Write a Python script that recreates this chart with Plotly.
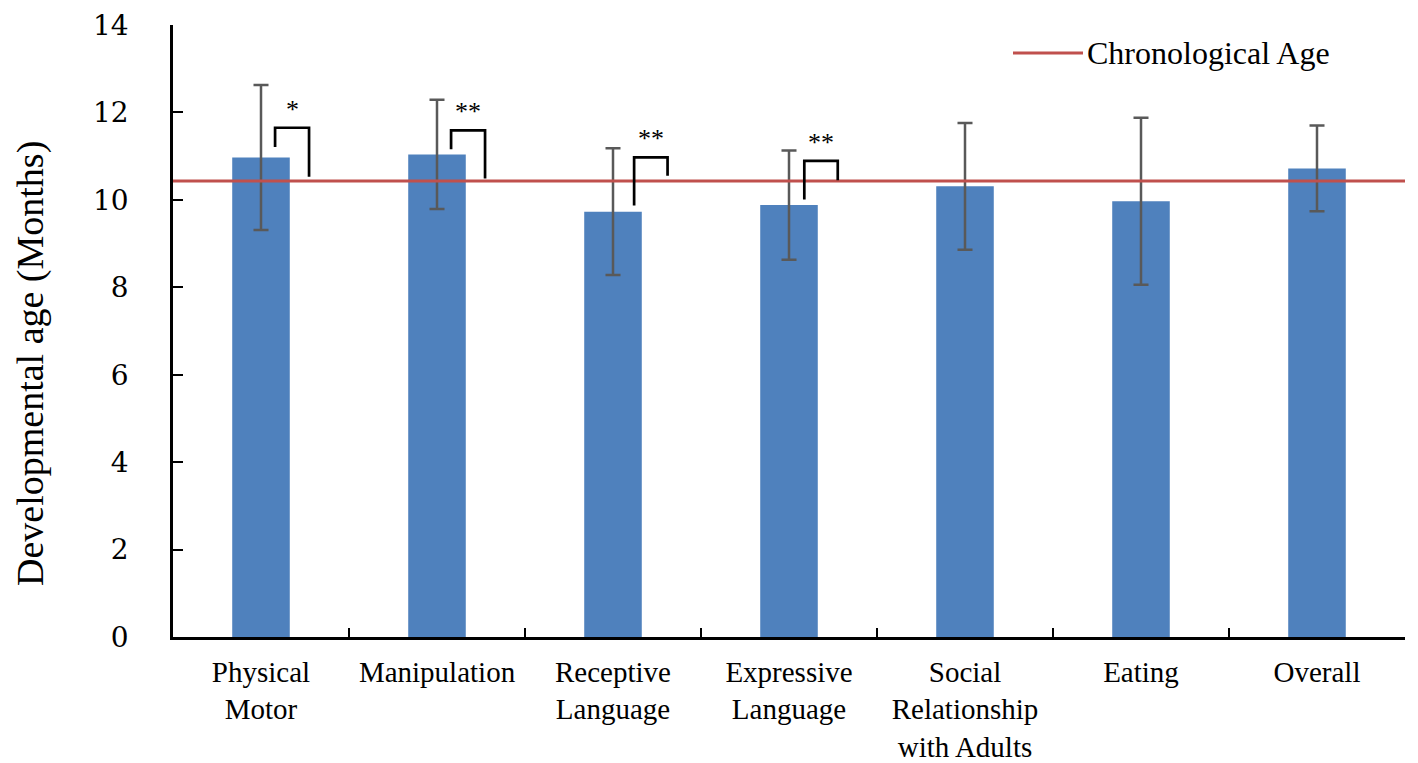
import plotly.graph_objects as go

# values
domains = ["Physical<br>Motor", "Manipulation", "Receptive<br>Language",
           "Expressive<br>Language", "Social<br>Relationship<br>with Adults",
           "Eating", "Overall"]
dev_age = [10.97, 11.04, 9.73, 9.88, 10.31, 9.97, 10.72]
dev_sd = [1.66, 1.25, 1.45, 1.25, 1.45, 1.91, 0.98]
chrono_age = 10.43
y_ticks = [0, 2, 4, 6, 8, 10, 12, 14]

# significance brackets (domain vs chronological age)
sig_idx = [0, 1, 2, 3]
sig_marks = ["*", "**", "**", "**"]
sig_left_dx = [0.08, 0.08, 0.12, 0.087]
sig_right_dx = [0.273, 0.273, 0.31, 0.277]
sig_left_low = [11.21, 11.16, 9.87, 10.01]
sig_top = [11.65, 11.59, 10.97, 10.89]
sig_right_low = [10.53, 10.49, 10.55, 10.45]

BLUE = "#4F81BD"
RED = "#C0504D"
SERIF = "Liberation Serif, Times New Roman, serif"
NUMS = "DejaVu Serif, serif"

# page body adds ~8px around the figure, so the figure is 8px smaller
W, H = 1410, 755
ML, MR, MT, MB = 165, 13, 17, 126
PW, PH = W - ML - MR, H - MT - MB

fig = go.Figure()
fig.add_trace(go.Bar(
    x=domains, y=dev_age, width=0.327,
    marker=dict(color=BLUE, line=dict(width=0)),
    error_y=dict(type="data", array=dev_sd, visible=True,
                 color="#595959", thickness=2.5, width=7.5),
    showlegend=False,
))

# chronological age reference line across the whole plot
fig.add_shape(type="line", xref="paper", x0=0, x1=1, yref="y",
              y0=chrono_age, y1=chrono_age,
              line=dict(color=RED, width=3), layer="above")

# brackets + stars
for i, k in enumerate(sig_idx):
    xl = k + sig_left_dx[i]
    xr = k + sig_right_dx[i]
    path = "M %f,%f L %f,%f L %f,%f L %f,%f" % (
        xl, sig_left_low[i], xl, sig_top[i], xr, sig_top[i], xr, sig_right_low[i])
    fig.add_shape(type="path", path=path, xref="x", yref="y",
                  line=dict(color="black", width=2.7))
    fig.add_annotation(x=(xl + xr) / 2, y=sig_top[i], text=sig_marks[i],
                       showarrow=False, yanchor="bottom", yshift=2,
                       font=dict(family=SERIF, size=26, color="black"))

# legend drawn by hand (long line sample like the original)
leg_y = (PH - (53 - 8 - MT)) / PH
fig.add_shape(type="line", xref="paper", yref="paper",
              x0=(1013 - 8 - ML) / PW, x1=(1083 - 8 - ML) / PW,
              y0=leg_y, y1=leg_y,
              line=dict(color=RED, width=3))
fig.add_annotation(xref="paper", yref="paper",
                   x=(1085 - 8 - ML) / PW, y=leg_y,
                   xanchor="left", yanchor="middle", showarrow=False,
                   text="Chronological Age",
                   font=dict(family=SERIF, size=32, color="black"))

# y title, sitting a little below the axis middle as in the original
fig.add_annotation(xref="paper", yref="paper",
                   x=(30 - 8 - ML) / PW, y=(PH - (364 - 8 - MT)) / PH,
                   xanchor="center", yanchor="middle", showarrow=False,
                   textangle=-90, text="Developmental age (Months)",
                   borderpad=0,
                   font=dict(family=SERIF, size=38, color="black"))

fig.update_layout(
    width=W, height=H,
    margin=dict(l=ML, r=MR, t=MT, b=MB),
    plot_bgcolor="white", paper_bgcolor="white",
    showlegend=False,
)
fig.update_xaxes(
    type="category", showline=True, linecolor="black", linewidth=2.5,
    ticks="inside", tickson="boundaries", ticklen=9, tickwidth=2,
    tickcolor="black", showgrid=False, ticklabelstandoff=7,
    tickangle=0, automargin=False,
    tickfont=dict(family=SERIF, size=29, color="black"),
)
fig.update_yaxes(
    range=[0, 14], tickvals=y_ticks, showline=True, linecolor="black",
    linewidth=2.5, ticks="inside", ticklen=10, tickwidth=2,
    tickcolor="black", showgrid=False, zeroline=False,
    ticklabelstandoff=36, automargin=False,
    tickfont=dict(family=NUMS, size=28, color="black"),
)

fig.write_html("out.html")
